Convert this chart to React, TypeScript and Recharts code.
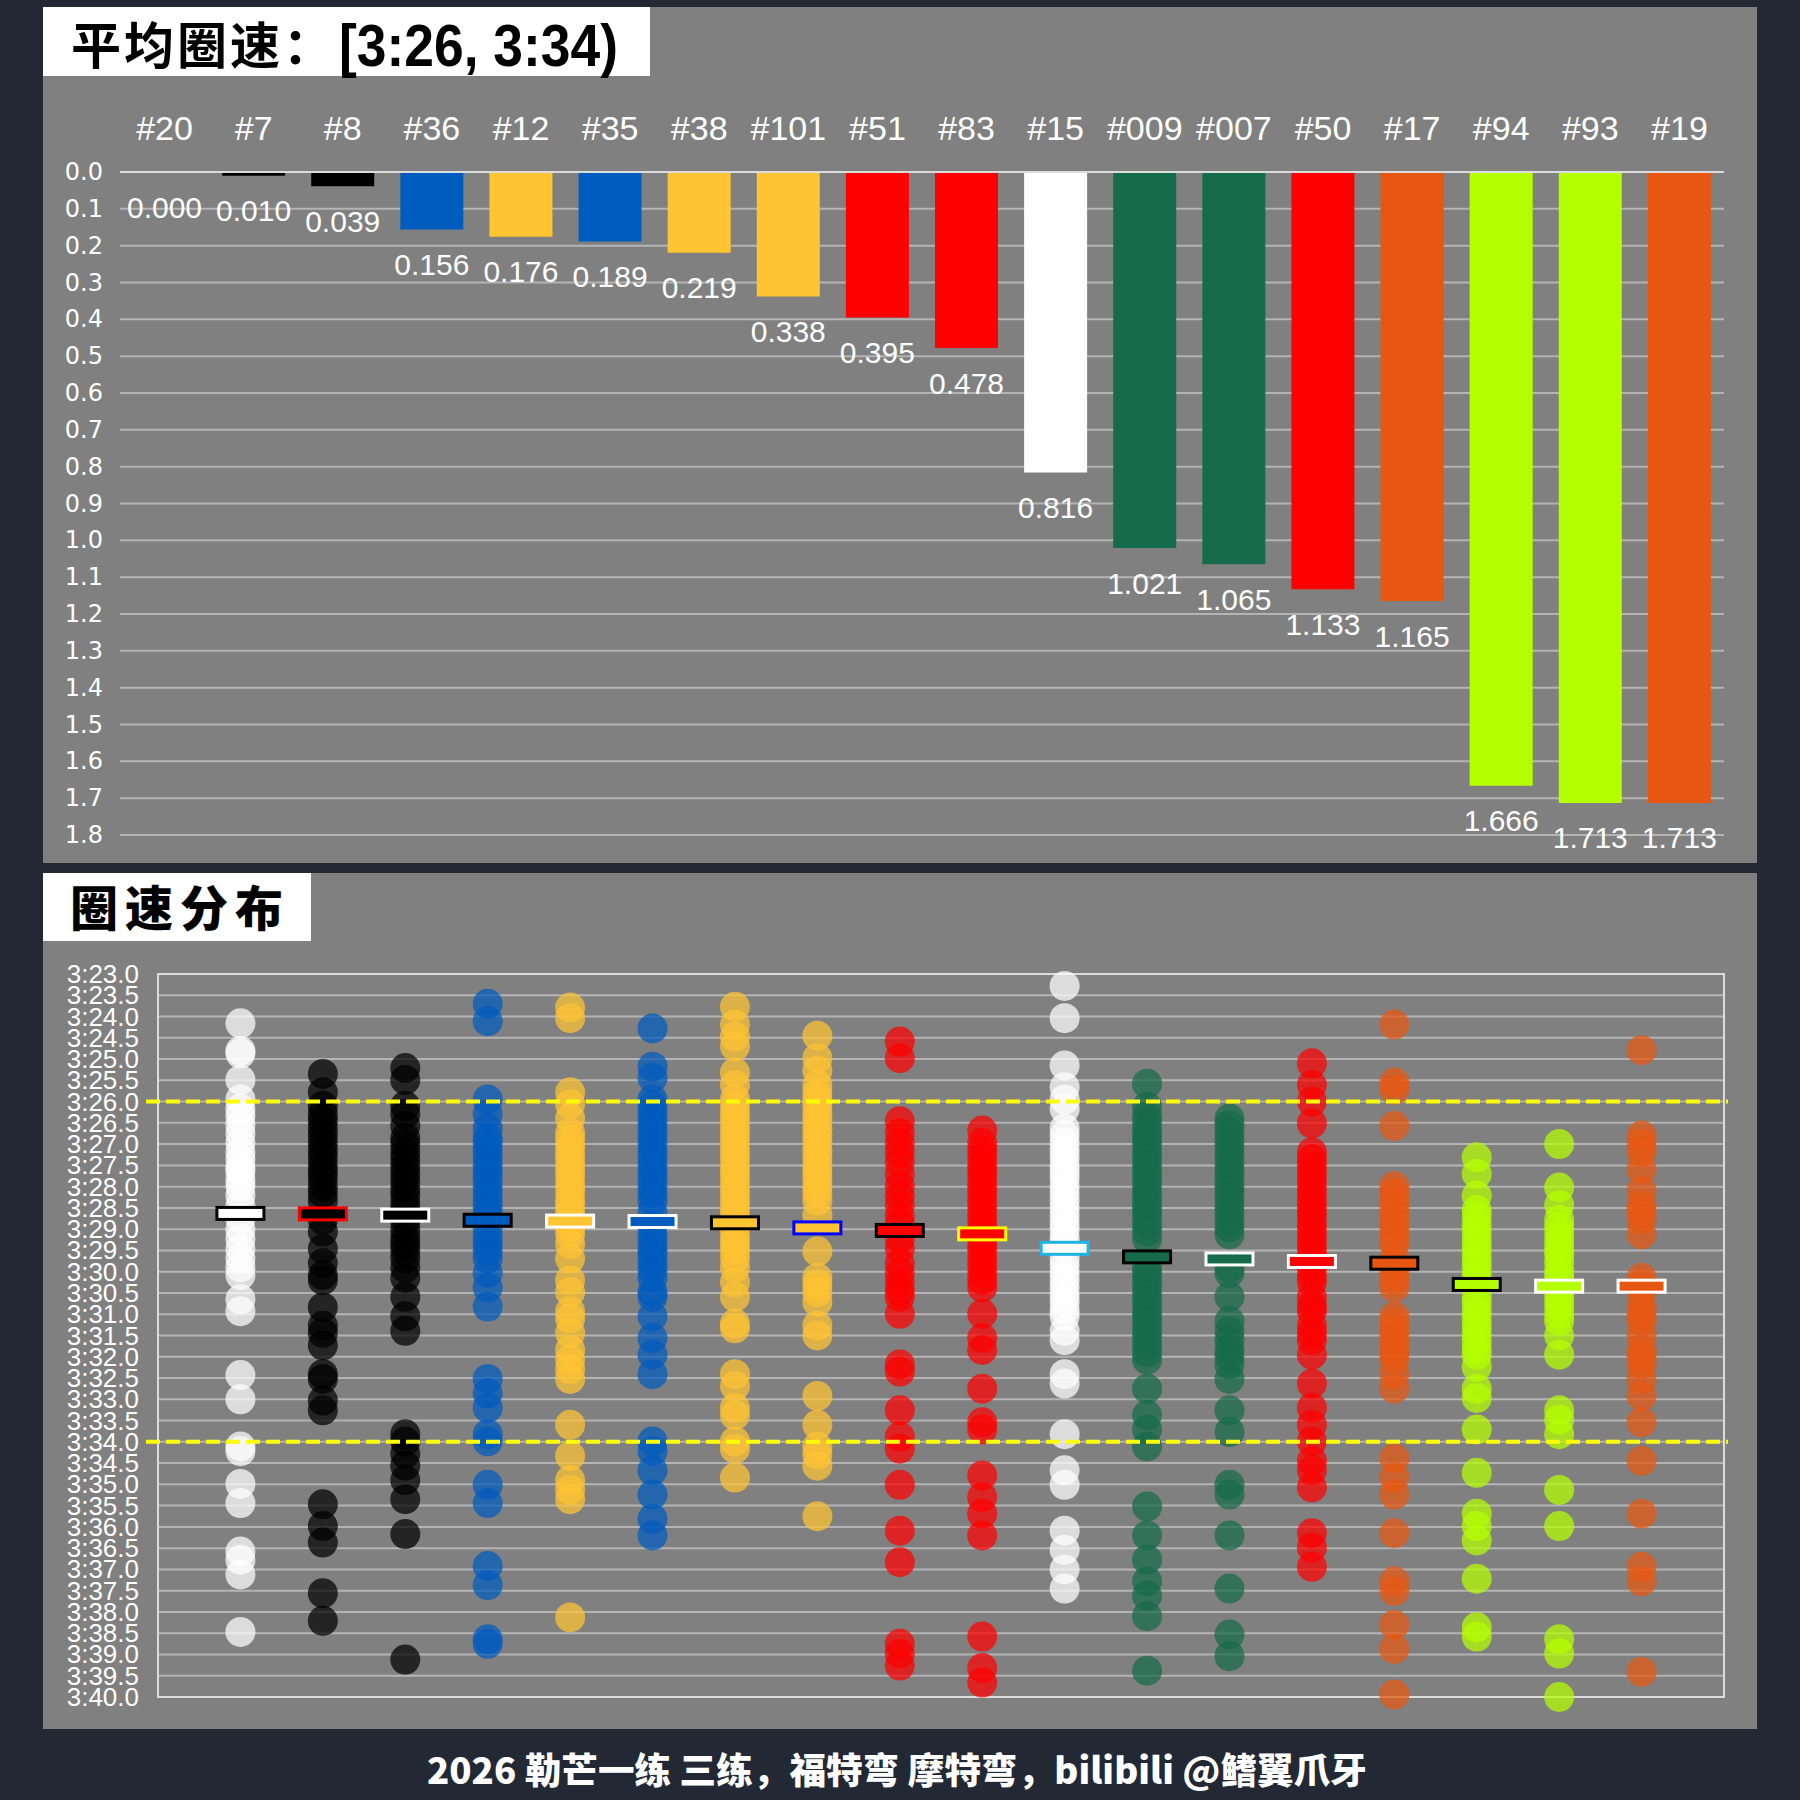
import React from 'react';
import {
  BarChart, Bar, XAxis, YAxis, CartesianGrid, Cell, LabelList,
  ScatterChart, Scatter, ReferenceLine, ReferenceArea,
} from 'recharts';

// ---------- data ----------
const cars = ['#20', '#7', '#8', '#36', '#12', '#35', '#38', '#101', '#51', '#83', '#15', '#009', '#007', '#50', '#17', '#94', '#93', '#19'];
const gaps = [0.000, 0.010, 0.039, 0.156, 0.176, 0.189, 0.219, 0.338, 0.395, 0.478, 0.816, 1.021, 1.065, 1.133, 1.165, 1.666, 1.713, 1.713];
const carColors = ['#FFFFFF', '#000000', '#000000', '#005CBF', '#FFC432', '#005CBF', '#FFC432', '#FFC432', '#FF0000', '#FF0000', '#FFFFFF', '#156B4B', '#156B4B', '#FF0000', '#E85712', '#B4FF00', '#B4FF00', '#E85712'];
const markerStrokes = ['#000000', '#FF0000', '#FFFFFF', '#000000', '#FFFFFF', '#FFFFFF', '#000000', '#0000FF', '#000000', '#FFFF00', '#1EB4E6', '#000000', '#FFFFFF', '#FFFFFF', '#000000', '#000000', '#FFFFFF', '#FFFFFF'];
// mean lap, seconds past 3:00
const meanLaps = [28.63, 28.64, 28.67, 28.79, 28.81, 28.82, 28.85, 28.97, 29.03, 29.11, 29.45, 29.65, 29.70, 29.76, 29.80, 30.30, 30.34, 30.34];
const gapTicks = [0, 0.1, 0.2, 0.3, 0.4, 0.5, 0.6, 0.7, 0.8, 0.9, 1.0, 1.1, 1.2, 1.3, 1.4, 1.5, 1.6, 1.7, 1.8];
const lapTicks = [23, 23.5, 24, 24.5, 25, 25.5, 26, 26.5, 27, 27.5, 28, 28.5, 29, 29.5, 30, 30.5, 31, 31.5, 32, 32.5, 33, 33.5, 34, 34.5, 35, 35.5, 36, 36.5, 37, 37.5, 38, 38.5, 39, 39.5, 40];
const thresholdLaps = [26, 34];

// individual laps (seconds past 3:00), one list per car
const laps20 = [24.16, 24.81, 24.87, 25.49, 25.95, 26.17, 26.34, 26.55, 26.75, 26.97, 27.19, 27.36, 27.55, 27.65, 27.85, 27.99, 28.21, 28.45, 28.75, 29.01, 29.23, 29.46, 29.69, 29.9, 30.08, 30.65, 30.93, 32.43, 33.00, 34.11, 34.22, 34.99, 35.44, 36.58, 36.77, 37.12, 38.47];
const laps7 = [25.35, 25.78, 26.1, 26.29, 26.45, 26.63, 26.8, 26.97, 27.15, 27.31, 27.5, 27.65, 27.8, 27.99, 28.15, 28.33, 28.78, 29.06, 29.46, 29.80, 30.08, 30.20, 30.84, 31.27, 31.44, 31.73, 32.41, 32.52, 33.03, 33.26, 35.47, 35.98, 36.37, 37.56, 38.21];
const laps8 = [25.21, 25.49, 26.1, 26.29, 26.57, 26.85, 27.0, 27.19, 27.35, 27.53, 27.7, 27.87, 28.05, 28.21, 28.4, 28.55, 28.8, 29.01, 29.2, 29.35, 29.5, 29.69, 29.91, 30.14, 30.59, 31.05, 31.39, 33.82, 33.99, 34.28, 34.56, 34.90, 35.35, 36.17, 39.12];
const laps36 = [23.70, 24.11, 25.95, 26.29, 26.63, 26.85, 26.97, 27.15, 27.31, 27.5, 27.65, 27.8, 27.99, 28.15, 28.33, 28.5, 28.67, 29.01, 29.2, 29.35, 29.5, 29.69, 30.03, 30.37, 30.82, 32.52, 32.86, 33.20, 33.82, 33.99, 35.01, 35.44, 36.92, 37.37, 38.64, 38.75];
const laps12 = [23.79, 24.04, 25.78, 26.06, 26.40, 26.74, 26.9, 27.08, 27.25, 27.42, 27.6, 27.76, 27.95, 28.10, 28.3, 28.44, 28.6, 28.78, 28.95, 29.12, 29.35, 29.69, 30.20, 30.48, 30.93, 31.10, 31.44, 31.84, 32.07, 32.29, 32.52, 33.60, 34.33, 34.90, 35.13, 35.35, 38.13];
const laps35 = [24.28, 25.18, 25.44, 25.95, 26.1, 26.29, 26.45, 26.63, 26.8, 26.97, 27.15, 27.31, 27.5, 27.65, 27.8, 27.99, 28.15, 28.33, 28.6, 28.9, 29.12, 29.3, 29.46, 29.6, 29.80, 29.95, 30.14, 30.48, 30.59, 31.05, 31.56, 31.95, 32.41, 33.99, 34.22, 34.67, 35.24, 35.81, 36.20];
const laps38 = [23.77, 24.19, 24.47, 24.70, 25.32, 25.61, 25.95, 26.1, 26.29, 26.45, 26.63, 26.8, 26.97, 27.15, 27.31, 27.5, 27.65, 27.8, 27.99, 28.15, 28.33, 28.5, 28.67, 29.01, 29.2, 29.35, 29.5, 29.69, 29.91, 30.25, 30.59, 31.22, 31.33, 32.41, 32.69, 33.20, 33.37, 33.99, 34.16, 34.84];
const laps101 = [24.45, 24.98, 25.27, 25.61, 25.8, 25.95, 26.1, 26.29, 26.45, 26.63, 26.8, 26.97, 27.15, 27.31, 27.5, 27.65, 27.8, 27.99, 28.15, 28.33, 28.67, 29.52, 30.14, 30.30, 30.48, 30.71, 31.27, 31.50, 32.92, 33.60, 34.11, 34.3, 34.56, 35.75];
const laps51 = [24.59, 24.98, 26.46, 26.74, 26.97, 27.19, 27.42, 27.70, 27.99, 28.21, 28.44, 28.7, 28.89, 29.23, 29.46, 29.80, 30.03, 30.25, 30.45, 30.59, 30.99, 32.18, 32.35, 33.26, 33.88, 34.16, 35.01, 36.09, 36.83, 38.75, 38.98, 39.26];
const laps83 = [26.68, 26.97, 27.15, 27.31, 27.5, 27.65, 27.8, 27.99, 28.15, 28.33, 28.5, 28.67, 28.85, 29.01, 29.2, 29.35, 29.5, 29.69, 29.85, 30.03, 30.2, 30.37, 30.99, 31.56, 31.84, 32.75, 33.54, 33.71, 34.79, 35.30, 35.69, 36.20, 38.58, 39.32, 39.66];
const laps15 = [23.28, 24.04, 25.15, 25.66, 25.95, 26.17, 26.63, 26.8, 26.97, 27.15, 27.31, 27.5, 27.65, 27.8, 27.99, 28.15, 28.33, 28.5, 28.67, 28.85, 29.01, 29.2, 29.35, 29.69, 29.85, 30.03, 30.2, 30.37, 30.55, 30.71, 30.9, 31.05, 31.39, 31.61, 32.41, 32.63, 33.82, 34.67, 35.01, 36.09, 36.54, 37.00, 37.45];
const laps009 = [25.58, 26.12, 26.35, 26.51, 26.7, 26.85, 27.0, 27.19, 27.35, 27.53, 27.7, 27.87, 28.05, 28.21, 28.4, 28.55, 28.7, 28.89, 29.05, 29.23, 29.9, 30.03, 30.2, 30.37, 30.55, 30.71, 30.9, 31.05, 31.2, 31.39, 31.55, 31.73, 31.9, 32.07, 32.75, 33.37, 33.71, 34.11, 35.52, 36.20, 36.77, 37.28, 37.62, 38.10, 39.38];
const laps007 = [26.40, 26.55, 26.74, 26.9, 27.08, 27.25, 27.42, 27.6, 27.76, 27.95, 28.10, 28.25, 28.44, 28.6, 28.78, 28.95, 29.12, 29.9, 30.03, 30.59, 31.16, 31.4, 31.61, 31.84, 32.0, 32.18, 32.52, 33.26, 33.77, 35.01, 35.24, 36.20, 37.45, 38.53, 39.04];
const laps50 = [25.10, 25.61, 26.00, 26.51, 27.19, 27.35, 27.53, 27.7, 27.87, 28.05, 28.21, 28.4, 28.55, 28.7, 28.89, 29.05, 29.23, 29.4, 29.57, 29.75, 29.91, 30.1, 30.25, 30.59, 30.8, 30.93, 31.27, 31.45, 31.61, 31.95, 32.63, 33.20, 33.60, 33.99, 34.45, 34.67, 35.07, 36.15, 36.49, 36.94];
const laps17 = [24.19, 25.55, 25.72, 26.57, 27.99, 28.15, 28.33, 28.5, 28.67, 28.85, 29.01, 29.2, 29.35, 29.69, 29.85, 30.03, 30.2, 30.37, 31.05, 31.2, 31.39, 31.55, 31.73, 31.9, 32.07, 32.41, 32.75, 34.39, 34.84, 35.24, 36.15, 37.28, 37.51, 38.30, 38.87, 39.94];
const laps94 = [27.31, 27.70, 28.21, 28.55, 28.7, 28.89, 29.05, 29.23, 29.4, 29.57, 29.75, 29.91, 30.1, 30.25, 30.59, 30.75, 30.93, 31.1, 31.27, 31.45, 31.61, 31.8, 31.95, 32.24, 32.75, 32.97, 33.71, 34.73, 35.69, 35.98, 36.32, 37.22, 38.36, 38.58];
const laps93 = [27.00, 28.02, 28.44, 28.78, 28.95, 29.12, 29.3, 29.46, 29.6, 29.80, 30.0, 30.14, 30.48, 30.65, 30.82, 31.0, 31.16, 31.50, 31.95, 33.26, 33.48, 33.82, 35.13, 35.98, 38.64, 38.98, 40.00];
const laps19 = [24.79, 26.80, 27.0, 27.19, 27.59, 28.10, 28.44, 28.6, 28.78, 29.12, 30.14, 30.3, 30.48, 30.82, 31.0, 31.16, 31.50, 31.84, 32.0, 32.18, 32.52, 32.92, 33.54, 34.45, 35.69, 36.94, 37.28, 39.41];
const lapsByCar = [laps20, laps7, laps8, laps36, laps12, laps35, laps38, laps101, laps51, laps83, laps15, laps009, laps007, laps50, laps17, laps94, laps93, laps19];

// ---------- style ----------
const BG = '#222834';
const PANEL = '#808080';
const LATIN = "'Liberation Sans', Arial, sans-serif";
const WIDE = "'DejaVu Sans', sans-serif";
const CJK = "'Noto Sans CJK SC', 'Noto Sans', sans-serif";

const barData = cars.map((car, i) => ({ car, gap: gaps[i] }));
const meanData = meanLaps.map((y, i) => ({ x: i, y }));

const TopXTick = (p: any) => (
  <text x={p.x} y={p.y} textAnchor="middle" fill="#FFFFFF" fontSize={34} fontFamily={LATIN}>
    {p.payload.value}
  </text>
);
const TopYTick = (p: any) => (
  <text x={p.x} y={p.y} textAnchor="end" dominantBaseline="central" fill="#FFFFFF" fontSize={24} fontFamily={WIDE}>
    {Number(p.payload.value).toFixed(1)}
  </text>
);
const LapYTick = (p: any) => (
  <text x={p.x} y={p.y} textAnchor="end" dominantBaseline="central" fill="#FFFFFF" fontSize={26} fontFamily={LATIN}>
    {'3:' + Number(p.payload.value).toFixed(1)}
  </text>
);
const GapLabel = (p: any) => {
  const top = Number(p.y);
  const h = Number(p.height) || 0;
  const bottom = Math.max(top, top + h);
  return (
    <text x={Number(p.x) + Number(p.width) / 2} y={bottom + 35} textAnchor="middle" dominantBaseline="central"
      fill="#FFFFFF" fontSize={30} fontFamily={LATIN}>
      {Number(p.value).toFixed(3)}
    </text>
  );
};

const dotShape = (color: string) => (p: any) => (
  <circle cx={p.cx} cy={p.cy} r={15} fill={color} fillOpacity={0.72} />
);
const meanShape = (p: any) => {
  const i = p.payload.x;
  return (
    <rect x={p.cx - 23.5} y={p.cy - 6} width={47} height={12} fill={carColors[i]} stroke={markerStrokes[i]} strokeWidth={3} />
  );
};
const dashShape = (p: any) => (
  <line x1={p.x1 - 12} y1={p.y1} x2={p.x2 + 4} y2={p.y2} stroke="#FFFF00" strokeWidth={4} strokeDasharray="14 6" />
);

export default function App() {
  return (
    <div style={{ position: 'absolute', left: 0, top: 0, width: 1800, height: 1800, background: BG, overflow: 'hidden' }}>
      <svg width={1800} height={1800} style={{ position: 'absolute', left: 0, top: 0 }}>
        <rect x={43} y={7} width={1714} height={856} fill={PANEL} />
        <rect x={43} y={873} width={1714} height={856} fill={PANEL} />
        <rect x={43} y={7} width={607} height={69} fill="#FFFFFF" />
        <text x={71} y={64} fill="#000000" fontSize={50} fontWeight={700} fontFamily={CJK} letterSpacing={3}>平均圈速：</text>
        <text x={339} y={66} fill="#000000" fontSize={60} fontWeight={700} fontFamily={LATIN} textLength={279} lengthAdjust="spacingAndGlyphs">[3:26, 3:34)</text>
        <rect x={43} y={873} width={268} height={68} fill="#FFFFFF" />
        <text x={70} y={926} fill="#000000" fontSize={48} fontWeight={900} fontFamily={CJK} letterSpacing={7}>圈速分布</text>
        <text x={897} y={1784} textAnchor="middle" fill="#FFFFFF" fontSize={36} fontWeight={900} fontFamily={CJK} textLength={940} lengthAdjust="spacingAndGlyphs">2026 勒芒一练 三练，福特弯 摩特弯，bilibili @鳍翼爪牙</text>
      </svg>

      <div style={{ position: 'absolute', left: 0, top: 0 }}>
        <BarChart width={1800} height={870} data={barData} margin={{ top: 112, right: 76, bottom: 35, left: 60 }}>
          <CartesianGrid horizontal vertical={false} stroke="#B4B4B4" strokeWidth={2} />
          <XAxis dataKey="car" orientation="top" height={60} interval={0} tickLine={false} tickSize={0} tickMargin={32}
            axisLine={{ stroke: '#DCDCDC', strokeWidth: 2 }} tick={TopXTick} />
          <YAxis type="number" domain={[0, 1.8]} reversed ticks={gapTicks} interval={0} width={60}
            axisLine={false} tickLine={false} tickSize={0} tickMargin={17} tick={TopYTick} allowDataOverflow />
          <Bar dataKey="gap" barSize={63} minPointSize={1} isAnimationActive={false}>
            {barData.map((d, i) => <Cell key={d.car} fill={carColors[i]} />)}
            <LabelList dataKey="gap" content={GapLabel} />
          </Bar>
        </BarChart>
      </div>

      <div style={{ position: 'absolute', left: 0, top: 870 }}>
        <ScatterChart width={1800} height={870} margin={{ top: 104, right: 76, bottom: 43, left: 98 }}>
          <CartesianGrid horizontal vertical={false} stroke="#B4B4B4" strokeWidth={2} />
          <XAxis type="number" dataKey="x" domain={[-1, 18]} hide height={0} />
          <YAxis type="number" dataKey="y" domain={[23, 40]} reversed ticks={lapTicks} interval={0} width={60}
            axisLine={false} tickLine={false} tickSize={0} tickMargin={19} tick={LapYTick} />
          <ReferenceArea x1={-1} x2={18} y1={23} y2={40} fill="none" fillOpacity={0} stroke="#DCDCDC" strokeWidth={2} ifOverflow="visible" />
          {lapsByCar.map((laps, i) => (
            <Scatter key={cars[i]} data={laps.map((y) => ({ x: i, y }))} shape={dotShape(carColors[i])} isAnimationActive={false} />
          ))}
          <Scatter data={meanData} shape={meanShape} isAnimationActive={false} />
          {thresholdLaps.map((t) => (
            <ReferenceLine key={t} y={t} shape={dashShape} ifOverflow="visible" zIndex={900} />
          ))}
        </ScatterChart>
      </div>
    </div>
  );
}
